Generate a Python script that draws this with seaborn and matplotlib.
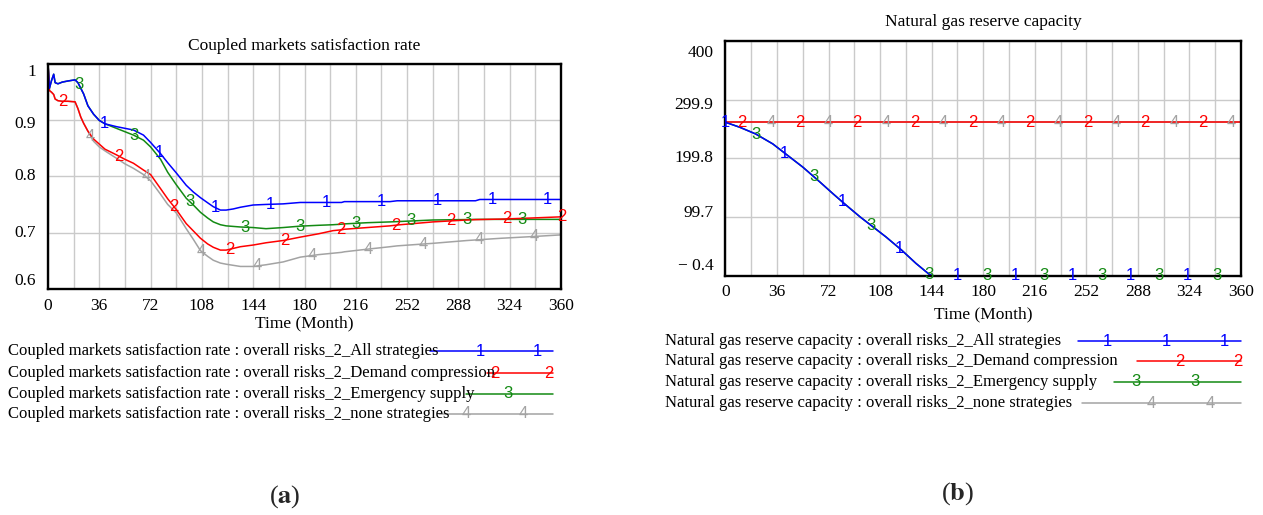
import numpy as np
import pandas as pd
import matplotlib
matplotlib.use("Agg")
import matplotlib.pyplot as plt
import seaborn as sns
from matplotlib.lines import Line2D
from matplotlib.transforms import ScaledTranslation, blended_transform_factory

# ---------------------------------------------------------------- data
scenarios = ["All strategies", "Demand compression", "Emergency supply", "none strategies"]
series_ids = ["1", "2", "3", "4"]

months_sat = [0, 1, 2.5, 4, 5, 7, 10, 14, 19, 21, 23, 25, 28, 32, 36, 40, 48, 54, 60, 67,
              72, 79, 84, 90, 97, 102, 107, 112, 116, 121, 125, 130, 135, 144, 153, 165,
              177, 190, 200, 206, 208, 224, 240, 245, 270, 294, 300, 303, 318, 340, 360]
sat_all = [1.0, 0.956, 0.97, 0.981, 0.966, 0.964, 0.967, 0.969, 0.971, 0.966, 0.956, 0.946,
           0.925, 0.91, 0.899, 0.893, 0.888, 0.885, 0.882, 0.873, 0.86, 0.84, 0.824, 0.806,
           0.784, 0.772, 0.762, 0.753, 0.746, 0.740, 0.740, 0.742, 0.745, 0.749, 0.750,
           0.751, 0.7535, 0.7535, 0.7535, 0.7535, 0.755, 0.755, 0.755, 0.7565, 0.7565,
           0.7565, 0.7565, 0.7588, 0.7588, 0.7588, 0.7588]
sat_demand = [1.0, 0.952, 0.949, 0.945, 0.937, 0.934, 0.933, 0.933, 0.932, 0.92, 0.905, 0.894,
              0.88, 0.866, 0.857, 0.848, 0.838, 0.83, 0.823, 0.811, 0.803, 0.778, 0.76, 0.741,
              0.716, 0.703, 0.69, 0.68, 0.674, 0.669, 0.669, 0.672, 0.675, 0.678, 0.682,
              0.686, 0.692, 0.698, 0.7035, 0.705, 0.706, 0.709, 0.712, 0.7135, 0.719, 0.7224,
              0.723, 0.7232, 0.724, 0.726, 0.728]
sat_emergency = [1.0, 0.956, 0.97, 0.981, 0.966, 0.964, 0.967, 0.969, 0.971, 0.966, 0.956, 0.946,
                 0.925, 0.91, 0.899, 0.893, 0.885, 0.879, 0.873, 0.864, 0.852, 0.830, 0.807,
                 0.785, 0.761, 0.749, 0.736, 0.726, 0.719, 0.714, 0.712, 0.711, 0.710, 0.709,
                 0.707, 0.709, 0.7115, 0.713, 0.714, 0.715, 0.7155, 0.7176, 0.719, 0.7195,
                 0.7224, 0.7232, 0.7235, 0.7235, 0.7235, 0.7235, 0.7235]
sat_none = [1.0, 0.952, 0.949, 0.945, 0.937, 0.934, 0.933, 0.933, 0.932, 0.92, 0.905, 0.894,
            0.88, 0.862, 0.852, 0.845, 0.832, 0.822, 0.814, 0.803, 0.792, 0.768, 0.750, 0.735,
            0.707, 0.688, 0.668, 0.658, 0.651, 0.646, 0.644, 0.642, 0.640, 0.640, 0.643,
            0.648, 0.6565, 0.661, 0.6635, 0.665, 0.666, 0.6706, 0.675, 0.6765, 0.681, 0.686,
            0.687, 0.6875, 0.690, 0.693, 0.696]

months_res = [0, 10, 21, 33, 42, 54, 66, 75, 83, 94, 103, 112, 123, 133, 142, 144.5, 360]
res_all = [261.5, 253, 241.7, 224.7, 207.7, 185.1, 159.6, 139.9, 122.9, 100.3, 83.3, 66.3,
           43.7, 21.1, 3.0, 0.0, 0.0]
res_demand = [261.5] * len(months_res)
res_emergency = [261.5, 253, 241.7, 224.7, 207.7, 185.1, 159.6, 139.9, 122.9, 100.3, 83.3,
                 66.3, 43.7, 21.1, 3.0, 0.0, 0.0]
res_none = [261.5] * len(months_res)

sat_ticks = [0.6, 0.7, 0.8, 0.9, 1.0]
sat_ticklabels = ["0.6", "0.7", "0.8", "0.9", "1"]
res_ticks = [-0.4, 99.7, 199.8, 299.9, 400]
res_ticklabels = ["\u2212 0.4", "99.7", "199.8", "299.9", "400"]
x_ticks = list(range(0, 361, 36))

sat_title = "Coupled markets satisfaction rate"
res_title = "Natural gas reserve capacity"

# ---------------------------------------------------------------- style
sns.set_theme(style="white")
plt.rcParams["font.family"] = ["Liberation Serif", "DejaVu Serif"]
plt.rcParams["mathtext.fontset"] = "stix"

colors = {"All strategies": "#0000ff", "Demand compression": "#ff0000",
          "Emergency supply": "#138a13", "none strategies": "#a3a3a3"}
draw_order = ["none strategies", "Emergency supply", "Demand compression", "All strategies"]
GRID = "#cacaca"
DIGIT_FONT = "Liberation Sans"
DIGIT_SIZE = 12

W, H, DPI = 1263, 515, 100
fig = plt.figure(figsize=(W / DPI, H / DPI), dpi=DPI)
fig.patch.set_facecolor("white")


def axes_px(left, top, right, bottom):
    return fig.add_axes([left / W, 1 - bottom / H, (right - left) / W, (bottom - top) / H])


def tidy(months, values):
    df = pd.DataFrame({"Time": months})
    for name, vals in zip(scenarios, values):
        df[name] = vals
    return df.melt(id_vars="Time", var_name="Scenario", value_name="Value")


def style_axes(ax, ticks, labels, label_shift, title, title_pad, xpad, xlabelpad):
    ax.set_xlim(0, 360)
    ax.set_ylim(ticks[0], ticks[-1])
    ax.set_xticks(x_ticks)
    ax.set_xticks(np.arange(18, 360, 36), minor=True)
    ax.set_yticks(ticks)
    ax.set_yticklabels([])
    ax.grid(True, which="both", axis="x", color=GRID, lw=1.0)
    ax.grid(True, which="major", axis="y", color=GRID, lw=1.0)
    ax.tick_params(which="both", length=0, labelsize=12.5, colors="black")
    ax.tick_params(axis="x", pad=xpad)
    for s in ax.spines.values():
        s.set_visible(True)
        s.set_color("black")
        s.set_linewidth(1.7)
    ax.set_xlabel("Time (Month)", fontsize=12.5, labelpad=xlabelpad, color="black")
    ax.set_ylabel("")
    ax.set_title(title, fontsize=12.5, pad=title_pad, color="black")
    trans = blended_transform_factory(ax.transAxes, ax.transData)
    for val, lab, dy in zip(ticks, labels, label_shift):
        off = ScaledTranslation(-12 / DPI, -dy / DPI, fig.dpi_scale_trans)
        ax.text(0, val, lab, transform=trans + off, ha="right", va="center",
                fontsize=12.5, color="black")


def digit_labels(ax, months, values, start, period, extra=()):
    for name, sid, vals, t0 in zip(scenarios, series_ids, values, start):
        spots = list(extra) if sid == "1" else []
        spots += list(np.arange(t0, 361, period))
        for t in spots:
            y = np.interp(t, months, vals)
            ax.text(t, y, sid, color=colors[name], fontsize=DIGIT_SIZE, family=DIGIT_FONT,
                    ha="center", va="center", clip_on=False, zorder=5)


def legend_rows(x_text, rows_y, segments, prefix):
    for name, sid, y, (x0, x1, marks) in zip(scenarios, series_ids, rows_y, segments):
        fig.text(x_text / W, 1 - y / H, f"{prefix} : overall risks_2_{name}",
                 fontsize=12, ha="left", va="center", color="black")
        fig.add_artist(Line2D([x0 / W, x1 / W], [1 - y / H, 1 - y / H],
                              color=colors[name], lw=1.1, transform=fig.transFigure))
        for m in marks:
            fig.text(m / W, 1 - y / H, sid, color=colors[name], fontsize=DIGIT_SIZE,
                     family=DIGIT_FONT, ha="center", va="center")


# ---------------------------------------------------------------- left panel
ax1 = axes_px(48, 63.5, 561, 289)
sat_df = tidy(months_sat, [sat_all, sat_demand, sat_emergency, sat_none])
sns.lineplot(data=sat_df, x="Time", y="Value", hue="Scenario", hue_order=draw_order,
             palette=colors, estimator=None, legend=False, linewidth=1.1, ax=ax1)
style_axes(ax1, sat_ticks, sat_ticklabels, [-8, 0, 0, 4, 9], sat_title, 10, 6.5, 1)
digit_labels(ax1, months_sat, [sat_all, sat_demand, sat_emergency, sat_none],
             start=[39.5, 10.7, 21.5, 30.0], period=38.9)

# ---------------------------------------------------------------- right panel
ax2 = axes_px(725.5, 41, 1241, 276)
res_df = tidy(months_res, [res_all, res_demand, res_emergency, res_none])
sns.lineplot(data=res_df, x="Time", y="Value", hue="Scenario", hue_order=draw_order,
             palette=colors, estimator=None, legend=False, linewidth=1.1, ax=ax2)
style_axes(ax2, res_ticks, res_ticklabels, [-10, -4, 0, 5, 12], res_title, 10.5, 5.5, 5)
digit_labels(ax2, months_res, [res_all, res_demand, res_emergency, res_none],
             start=[41.3, 11.6, 21.5, 31.7], period=40.2, extra=(0,))

# ---------------------------------------------------------------- legends
legend_rows(8, [351, 373, 394, 414],
            [(430, 553, [480, 537]), (487, 553, [495, 549]),
             (466, 553, [508]), (439, 553, [466, 523])],
            "Coupled markets satisfaction rate")
legend_rows(665, [341, 361, 382, 403],
            [(1078, 1241, [1107, 1166, 1224]), (1137, 1241, [1180, 1238]),
             (1114, 1241, [1136, 1195]), (1082, 1241, [1151, 1210])],
            "Natural gas reserve capacity")

# ---------------------------------------------------------------- captions
fig.text(285 / W, 1 - 497 / H, r"($\mathbf{a}$)", fontsize=19, ha="center", va="center")
fig.text(958 / W, 1 - 494 / H, r"($\mathbf{b}$)", fontsize=19, ha="center", va="center")

fig.savefig("out.png", dpi=DPI, facecolor="white")
